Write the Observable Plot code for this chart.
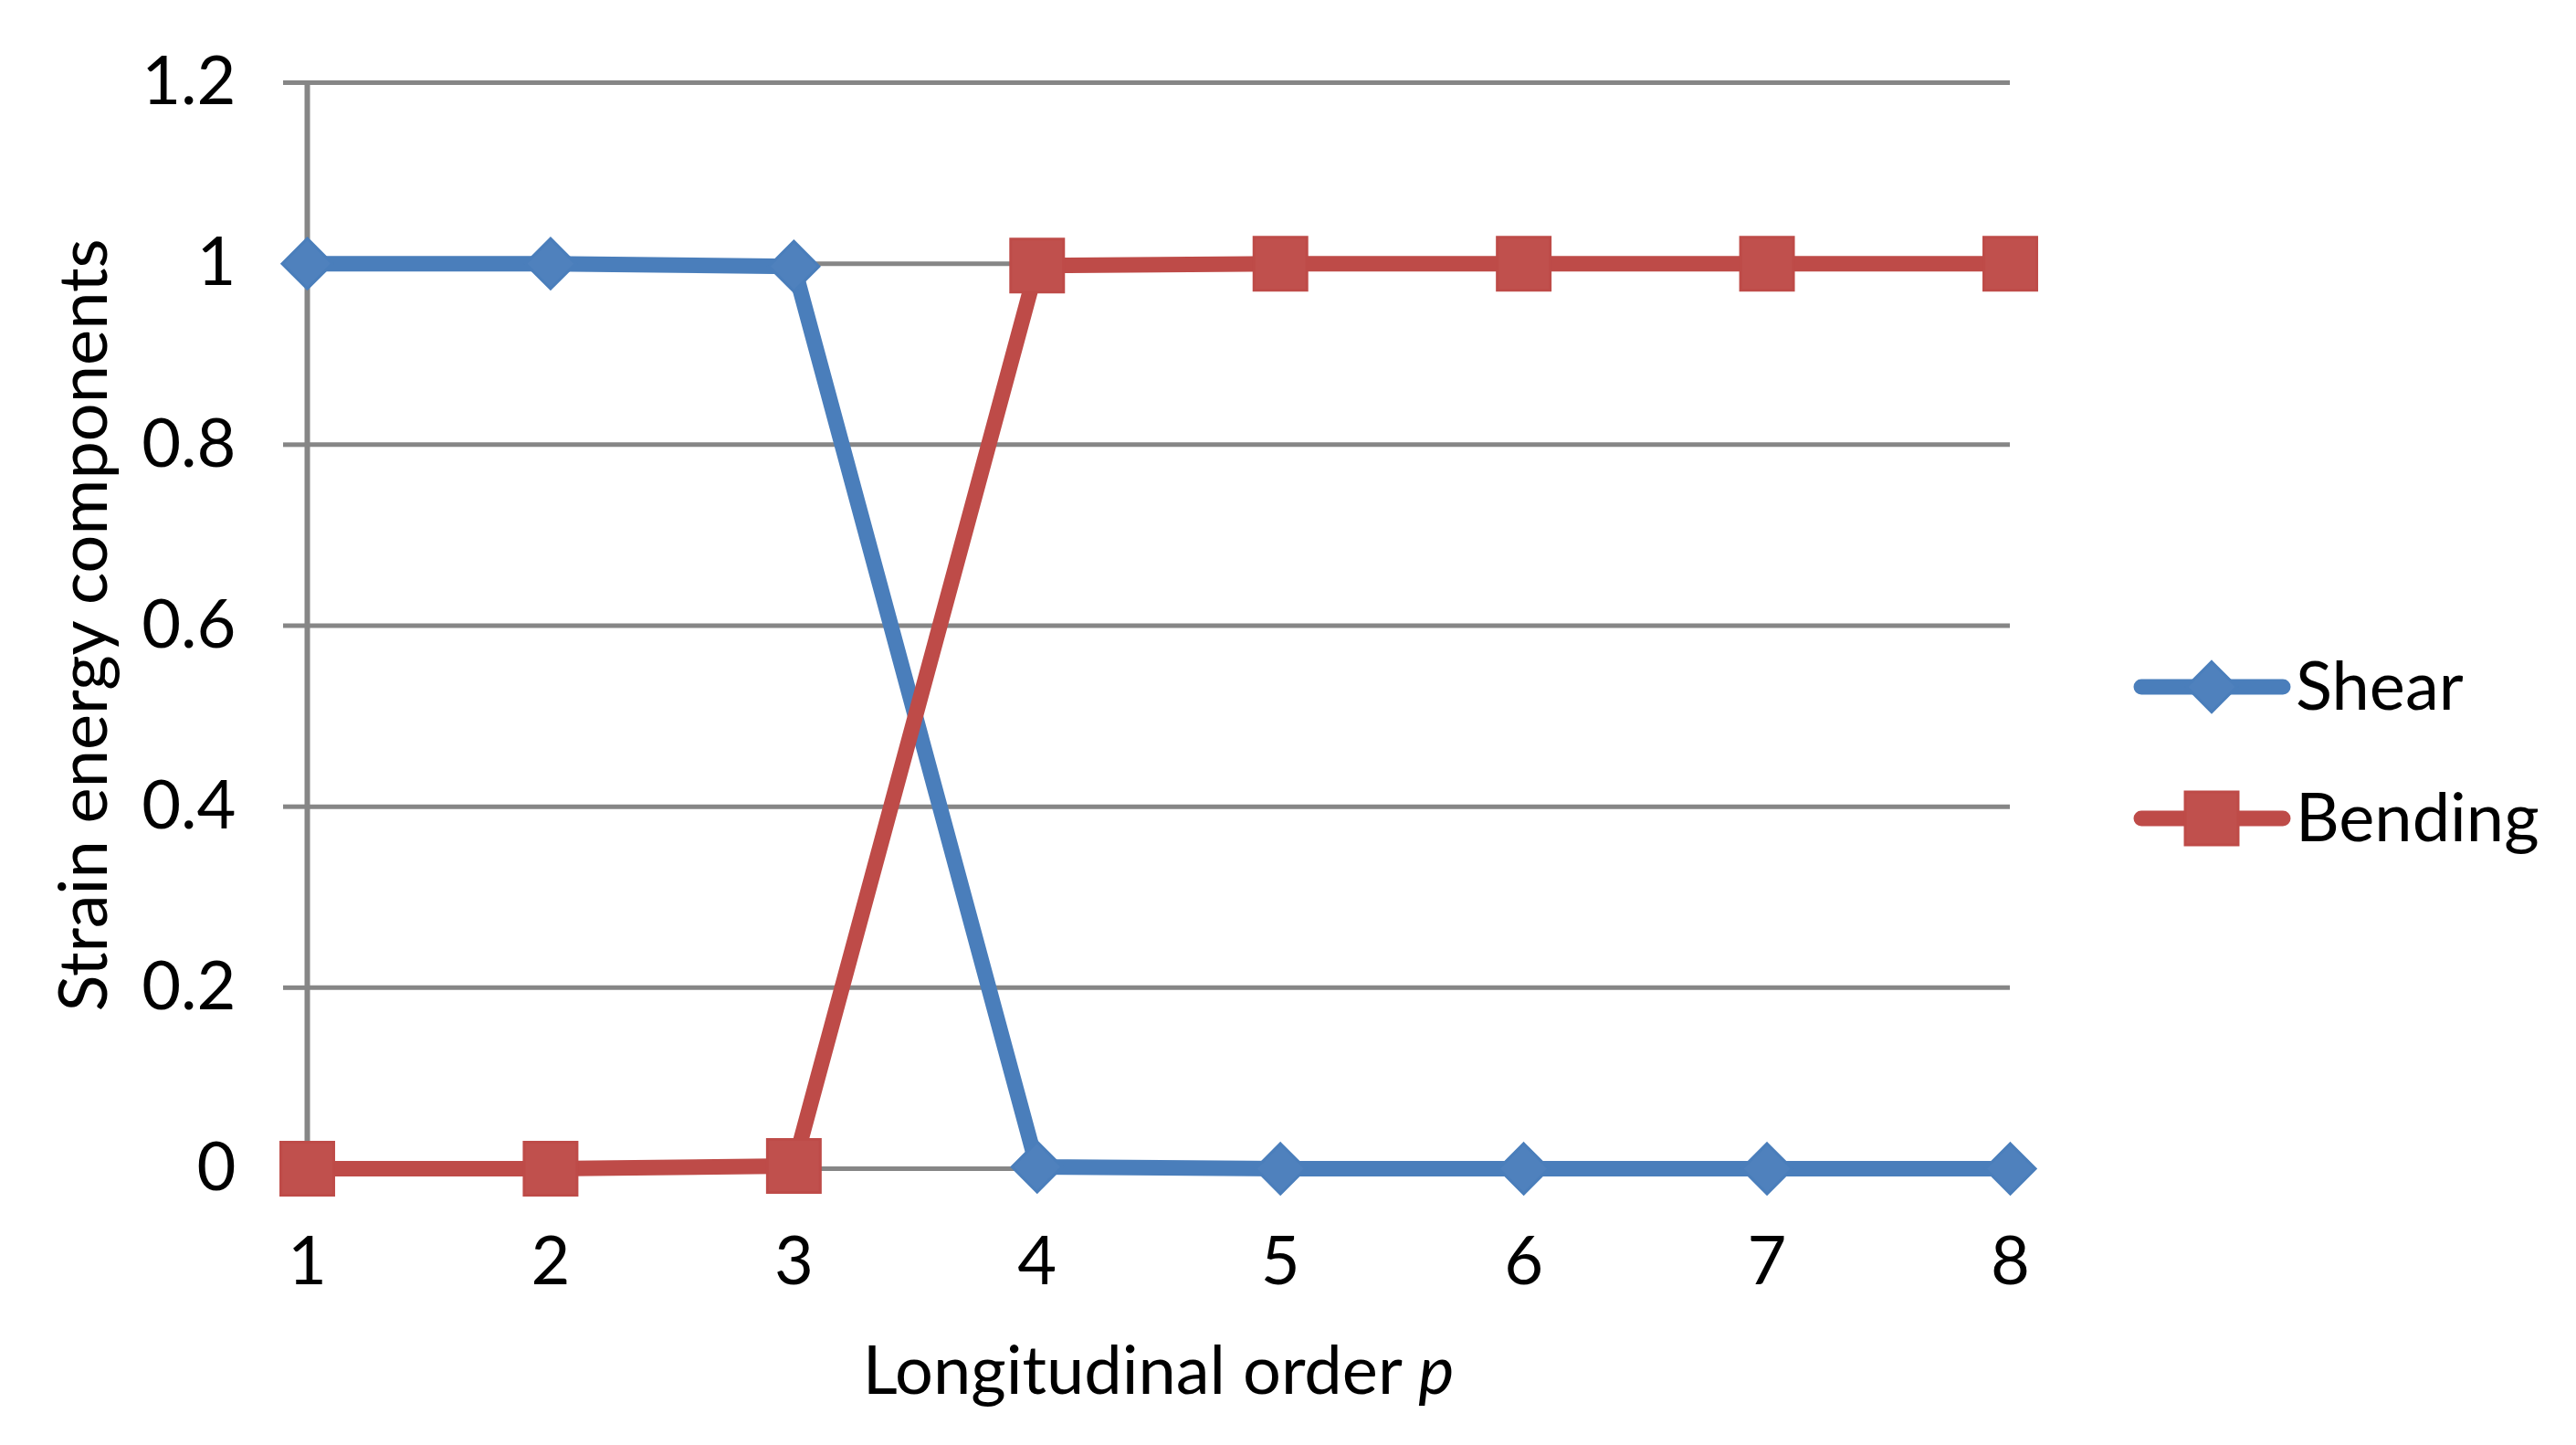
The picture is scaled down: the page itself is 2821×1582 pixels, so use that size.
<!DOCTYPE html>
<html><head><meta charset="utf-8">
<script src="https://cdn.jsdelivr.net/npm/d3@7"></script>
<script src="https://cdn.jsdelivr.net/npm/@observablehq/plot@0.6"></script>
<style>html,body{margin:0;padding:0;background:#fff;} svg{display:block}</style>
</head><body><div id="chart"></div>
<script>
// ---- data ----
const orders = [1, 2, 3, 4, 5, 6, 7, 8];
const shear = [1, 1, 0.997, 0.002, 0, 0, 0, 0];
const bending = [0, 0, 0.003, 0.998, 1, 1, 1, 1];
const yTicks = [0, 0.2, 0.4, 0.6, 0.8, 1, 1.2];
const yTickLabels = ["0", "0.2", "0.4", "0.6", "0.8", "1", "1.2"];
const xTickLabels = ["1", "2", "3", "4", "5", "6", "7", "8"];
const seriesNames = ["Shear", "Bending"];
const xTitle = "Longitudinal order ";
const xTitleItalic = "p";
const yTitle = "Strain energy components";

// ---- styles ----
const FONT = "Lato";
const FS = 74;
const GRID = "#868686";
const blueLine = "#4A7EBB", blueFill = "#4F81BD";
const redLine = "#BE4B48", redFill = "#C0504D";
const LW = 17;
const rDiamond = 24.8, rSquare = 32.7;

const shearData = orders.map((o, i) => ({order: o, value: shear[i]}));
const bendData = orders.map((o, i) => ({order: o, value: bending[i]}));

const W = 2821, H = 1582;
const plot = Plot.plot({
  width: W, height: H,
  marginLeft: 336, marginRight: 620, marginTop: 90, marginBottom: 303,
  style: {fontFamily: FONT, fontSize: FS + "px", color: "#000", background: "#fff"},
  x: {domain: [1, 8]},
  y: {domain: [0, 1.2]},
  marks: [
    Plot.ruleY(yTicks, {stroke: GRID, strokeWidth: 5}),
    Plot.ruleX([1], {stroke: GRID, strokeWidth: 6}),
    Plot.axisY({ticks: yTicks, tickFormat: (d) => yTickLabels[yTicks.indexOf(d)], tickSize: 26, tickPadding: 52,
      stroke: GRID, strokeWidth: 5, fontSize: FS, label: null, fill: "#000"}),
    Plot.axisX({ticks: orders, tickFormat: (d) => xTickLabels[orders.indexOf(d)], tickSize: 0, tickPadding: 74,
      fontSize: FS, label: null, fill: "#000"}),
    Plot.line(shearData, {x: "order", y: "value", stroke: blueLine, strokeWidth: LW, strokeLinejoin: "round", strokeLinecap: "round"}),
    Plot.dot(shearData, {x: "order", y: "value", symbol: "diamond2", r: rDiamond, fill: blueFill, stroke: blueLine, strokeWidth: 3}),
    Plot.line(bendData, {x: "order", y: "value", stroke: redLine, strokeWidth: LW, strokeLinejoin: "round", strokeLinecap: "round"}),
    Plot.dot(bendData, {x: "order", y: "value", symbol: "square", r: rSquare, fill: redFill, stroke: redLine, strokeWidth: 3})
  ]
});
document.getElementById("chart").appendChild(plot);

const svg = d3.select(plot);
const xs = plot.scale("x"), ys = plot.scale("y");
const x0 = xs.apply(1), x1 = xs.apply(8);
const yTop = ys.apply(1.2), yBot = ys.apply(0);

// x title
const xt = svg.append("text")
  .attr("x", (x0 + x1) / 2).attr("y", 1526)
  .attr("text-anchor", "middle").attr("font-family", FONT).attr("font-size", FS).attr("fill", "#000");
xt.append("tspan").text(xTitle);
xt.append("tspan").attr("font-style", "italic").text(xTitleItalic);

// y title
svg.append("text")
  .attr("transform", `translate(117,${(yTop + yBot) / 2}) rotate(-90)`)
  .attr("text-anchor", "middle").attr("font-family", FONT).attr("font-size", FS).attr("fill", "#000")
  .text(yTitle);

// legend
const legend = [
  {name: seriesNames[0], line: blueLine, fill: blueFill, sym: d3.symbolDiamond2, r: rDiamond, y: 752},
  {name: seriesNames[1], line: redLine, fill: redFill, sym: d3.symbolSquare, r: rSquare, y: 896}
];
const lg = svg.append("g");
legend.forEach((d) => {
  lg.append("line").attr("x1", 2345).attr("x2", 2500).attr("y1", d.y).attr("y2", d.y)
    .attr("stroke", d.line).attr("stroke-width", LW).attr("stroke-linecap", "round");
  lg.append("path").attr("transform", `translate(2422,${d.y})`)
    .attr("d", d3.symbol(d.sym, Math.PI * d.r * d.r)())
    .attr("fill", d.fill).attr("stroke", d.line).attr("stroke-width", 3);
  lg.append("text").attr("x", 2514).attr("y", d.y + 25).attr("text-anchor", "start")
    .attr("font-family", FONT).attr("font-size", FS).attr("fill", "#000").text(d.name);
});
</script></body></html>
